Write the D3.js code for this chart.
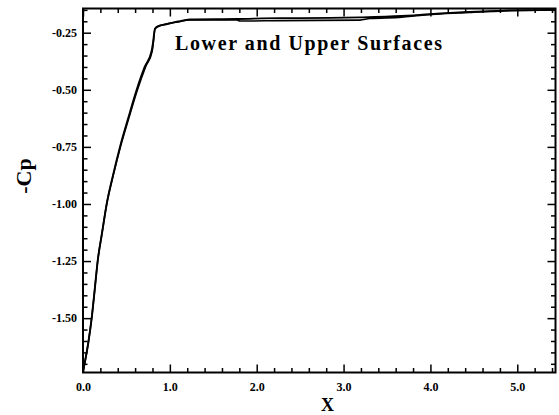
<!DOCTYPE html>
<html>
<head>
<meta charset="utf-8">
<script src="https://cdn.jsdelivr.net/npm/d3@7"></script>
<style>
  html, body { margin: 0; padding: 0; background: #fff; }
  svg { display: block; }
  text { font-family: "Liberation Serif", "DejaVu Serif", serif; font-weight: bold; fill: #000; }
</style>
</head>
<body>
<svg id="chart" width="559" height="415"></svg>
<script>
// ---- data ----
const title = "Lower and Upper Surfaces";
const xLabel = "X";
const yLabel = "-Cp";
const xMajorTicks = [0, 1, 2, 3, 4, 5];
const xTickLabels = ["0.0", "1.0", "2.0", "3.0", "4.0", "5.0"];
const yMajorTicks = [-1.5, -1.25, -1.0, -0.75, -0.5, -0.25];
const yTickLabels = ["-1.50", "-1.25", "-1.00", "-0.75", "-0.50", "-0.25"];
const xMinorTicks = [0.2,0.4,0.6,0.8,1.2,1.4,1.6,1.8,2.2,2.4,2.6,2.8,3.2,3.4,3.6,3.8,4.2,4.4,4.6,4.8,5.2,5.4];
const yMinorTicks = [-1.70,-1.65,-1.60,-1.55,-1.45,-1.40,-1.35,-1.30,-1.20,-1.15,-1.10,-1.05,-0.95,-0.90,-0.85,-0.80,-0.70,-0.65,-0.60,-0.55,-0.45,-0.40,-0.35,-0.30,-0.20,-0.15];

const upperX = [0, 0.023, 0.060, 0.100, 0.135, 0.169, 0.220, 0.273, 0.345, 0.426, 0.520, 0.618, 0.710, 0.790, 0.805, 0.829, 0.867, 0.944, 1.093, 1.231, 1.772, 2.267, 2.497, 3.188, 3.671, 3.878, 4.453, 4.799, 4.914, 5.431];
const upperY = [-1.735, -1.690, -1.610, -1.500, -1.375, -1.250, -1.125, -1.000, -0.875, -0.750, -0.625, -0.500, -0.400, -0.330, -0.297, -0.233, -0.221, -0.214, -0.201, -0.192, -0.190, -0.186, -0.186, -0.183, -0.177, -0.172, -0.159, -0.155, -0.153, -0.150];

const lowerX = [0, 0.023, 0.060, 0.100, 0.135, 0.169, 0.220, 0.273, 0.348, 0.431, 0.527, 0.627, 0.720, 0.797, 0.809, 0.829, 0.886, 1.093, 1.231, 1.772, 1.807, 2.267, 3.188, 3.303, 3.671, 3.878, 4.453, 4.914, 5.431];
const lowerY = [-1.735, -1.690, -1.610, -1.500, -1.375, -1.250, -1.125, -1.000, -0.875, -0.750, -0.625, -0.500, -0.400, -0.330, -0.297, -0.233, -0.220, -0.203, -0.194, -0.194, -0.199, -0.197, -0.195, -0.188, -0.182, -0.174, -0.161, -0.153, -0.150];

// ---- layout ----
const svg = d3.select("#chart");
const L = 83, R = 555.5, T = 8.5, B = 372.5;
const x = d3.scaleLinear().domain([0, 5.44]).range([L, R]);
const y = d3.scaleLinear().domain([-1.738, -0.144]).range([B, T]);

// curves
const line = d3.line().x(d => x(d[0])).y(d => y(d[1])).curve(d3.curveMonotoneX);
const upper = d3.zip(upperX, upperY);
const lower = d3.zip(lowerX, lowerY);
svg.append("path").datum(lower).attr("d", line)
  .attr("fill", "none").attr("stroke", "#000").attr("stroke-width", 1.6);
svg.append("path").datum(upper).attr("d", line)
  .attr("fill", "none").attr("stroke", "#000").attr("stroke-width", 1.9);

// axes (ticks inward)
const fmtX = d => xTickLabels[xMajorTicks.indexOf(d)];
const fmtY = d => yTickLabels[yMajorTicks.indexOf(d)];

function styleAxis(g) {
  g.select(".domain").remove();
  g.selectAll(".tick line").attr("stroke", "#000").attr("stroke-width", 1.5);
  g.selectAll("text").attr("font-size", 12).attr("font-family", "'Liberation Serif', serif").attr("font-weight", "bold").attr("fill", "#000");
}

svg.append("g").attr("transform", `translate(0,${B})`)
  .call(d3.axisBottom(x).tickValues(xMajorTicks).tickFormat(fmtX).tickSize(-8).tickPadding(10))
  .call(styleAxis);
svg.append("g").attr("transform", `translate(0,${B})`)
  .call(d3.axisBottom(x).tickValues(xMinorTicks).tickFormat("").tickSize(-4.5))
  .call(styleAxis);
svg.append("g").attr("transform", `translate(0,${T})`)
  .call(d3.axisTop(x).tickValues(xMajorTicks).tickFormat("").tickSize(-8))
  .call(styleAxis);
svg.append("g").attr("transform", `translate(0,${T})`)
  .call(d3.axisTop(x).tickValues(xMinorTicks).tickFormat("").tickSize(-4.5))
  .call(styleAxis);

svg.append("g").attr("transform", `translate(${L},0)`)
  .call(d3.axisLeft(y).tickValues(yMajorTicks).tickFormat(fmtY).tickSize(-8).tickPadding(6))
  .call(styleAxis);
svg.append("g").attr("transform", `translate(${L},0)`)
  .call(d3.axisLeft(y).tickValues(yMinorTicks).tickFormat("").tickSize(-4.5))
  .call(styleAxis);
svg.append("g").attr("transform", `translate(${R},0)`)
  .call(d3.axisRight(y).tickValues(yMajorTicks).tickFormat("").tickSize(-8))
  .call(styleAxis);
svg.append("g").attr("transform", `translate(${R},0)`)
  .call(d3.axisRight(y).tickValues(yMinorTicks).tickFormat("").tickSize(-4.5))
  .call(styleAxis);

// frame
svg.append("rect").attr("x", L).attr("y", T).attr("width", R - L).attr("height", B - T)
  .attr("fill", "none").attr("stroke", "#000").attr("stroke-width", 2);

// labels
svg.append("text").attr("x", 175).attr("y", 49.5).attr("font-size", 20)
  .attr("textLength", 267).attr("lengthAdjust", "spacing").text(title);
svg.append("text").attr("x", 327.5).attr("y", 411).attr("text-anchor", "middle")
  .attr("font-size", 18).text(xLabel);
svg.append("text").attr("transform", "translate(31,176) rotate(-90)")
  .attr("text-anchor", "middle").attr("font-size", 22).text(yLabel);
</script>
</body>
</html>
